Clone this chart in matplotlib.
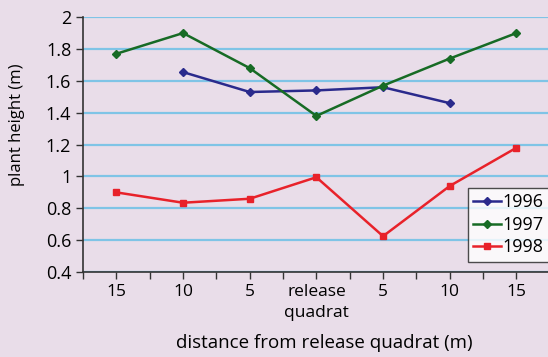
import numpy as np
import matplotlib.pyplot as plt

plt.rcParams['font.family'] = ['Open Sans', 'DejaVu Sans']

# data
x_labels = ['15', '10', '5', 'release\nquadrat', '5', '10', '15']
y1996 = [np.nan, 1.655, 1.53, 1.54, 1.56, 1.46, np.nan]
y1997 = [1.77, 1.90, 1.68, 1.38, 1.57, 1.74, 1.90]
y1998 = [0.90, 0.835, 0.86, 0.995, 0.625, 0.94, 1.18]
y_ticks = [0.4, 0.6, 0.8, 1.0, 1.2, 1.4, 1.6, 1.8, 2.0]
y_tick_labels = ['0.4', '0.6', '0.8', '1', '1.2', '1.4', '1.6', '1.8', '2']

bg = '#e9dde9'
fig = plt.figure(figsize=(5.48, 3.57), dpi=100, facecolor=bg)
ax = fig.add_axes([0.1515, 0.238, 0.9125, 0.714])
ax.set_facecolor(bg)

x = np.arange(len(x_labels))
ax.plot(x, y1996, color='#2a2a8c', marker='D', markersize=4, lw=1.8, label='1996')
ax.plot(x, y1997, color='#176b25', marker='D', markersize=4, lw=1.8, label='1997')
ax.plot(x, y1998, color='#e8222a', marker='s', markersize=5, lw=1.8, label='1998')

ax.set_xlim(-0.5, 7.0)
ax.set_ylim(0.4, 2.0)
ax.set_yticks(y_ticks)
ax.set_yticklabels(y_tick_labels)
ax.set_xticks(x)
ax.set_xticklabels(x_labels, linespacing=1.4)
ax.set_xticks(np.arange(-0.5, 7.0, 0.5), minor=True)
ax.tick_params(axis='x', which='both', length=5, width=1, color='#333333', labelsize=12.5)
ax.tick_params(axis='y', length=5, width=1, color='#333333', labelsize=13)
ax.yaxis.grid(True, color='#7fc4e6', lw=1.6)
ax.set_axisbelow(True)
for s in ['top', 'right']:
    ax.spines[s].set_visible(False)
for s in ['left', 'bottom']:
    ax.spines[s].set_color('#333333')
    ax.spines[s].set_linewidth(1.2)

ax.set_ylabel('plant height (m)', fontsize=12)
ax.yaxis.set_label_coords(-0.116, 0.576)
ax.set_xlabel('distance from release quadrat (m)', fontsize=13.5)
ax.xaxis.set_label_coords(0.482, -0.245)

leg = ax.legend(loc='upper left', bbox_to_anchor=(468 / 548, 1 - 188 / 357),
                bbox_transform=fig.transFigure, fontsize=13, frameon=True,
                fancybox=False, edgecolor='#222222', handlelength=1.5,
                handletextpad=0.1, borderpad=0.3, labelspacing=0.25, borderaxespad=0)
leg.get_frame().set_facecolor('white')
leg.get_frame().set_linewidth(1.0)

fig.savefig('out.png', dpi=100, facecolor=bg)
